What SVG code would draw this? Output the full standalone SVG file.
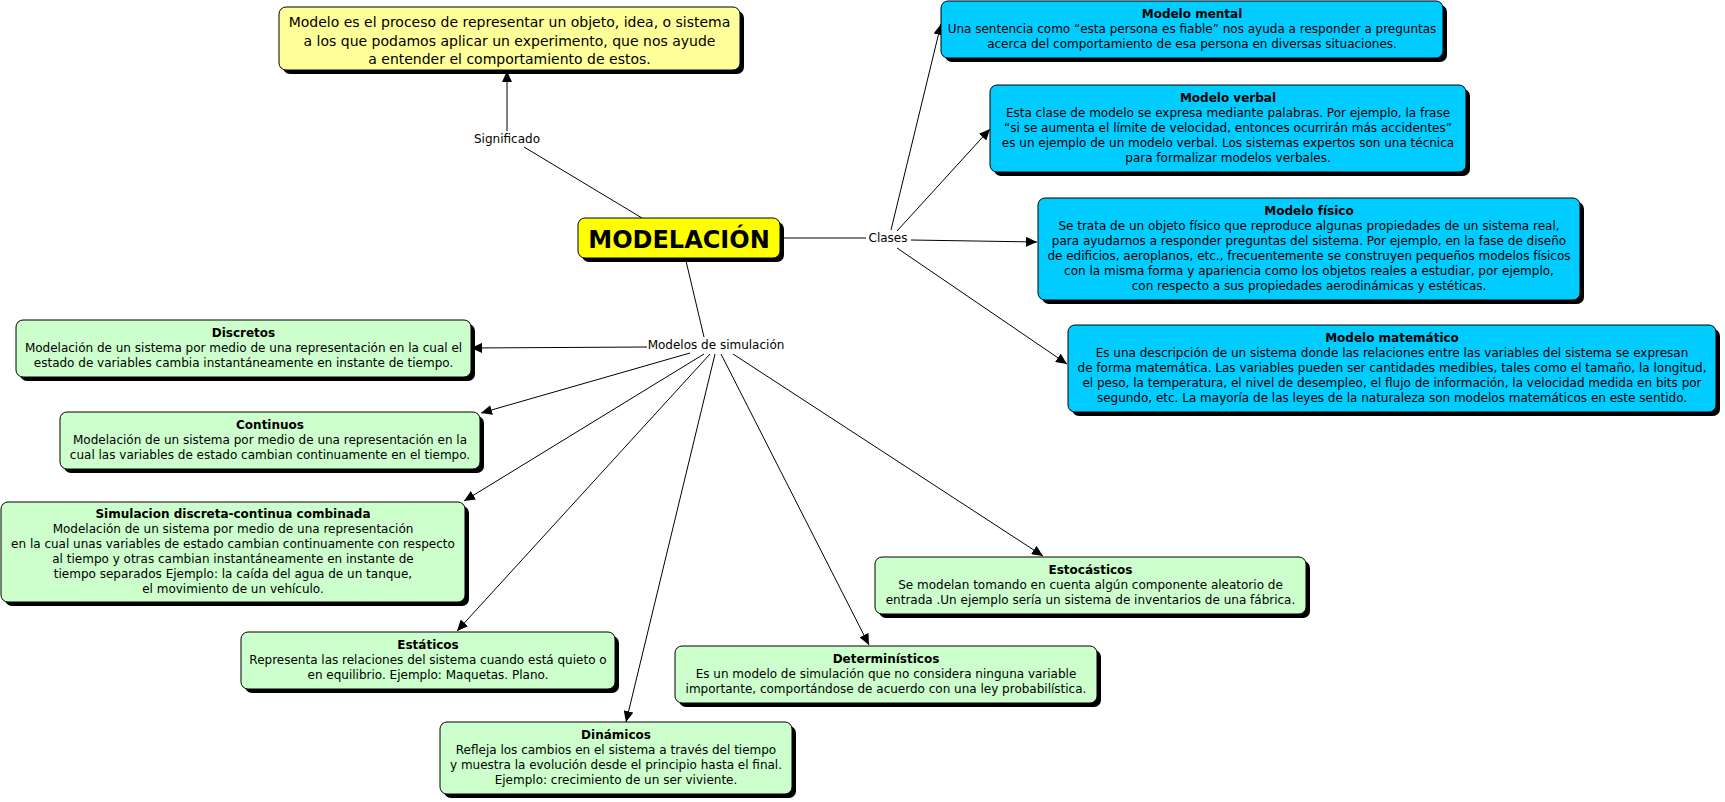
<svg xmlns="http://www.w3.org/2000/svg" width="1725" height="802" viewBox="0 0 1725 802">
<style>
text{font-family:"DejaVu Sans",Verdana,sans-serif;font-size:12px;fill:#000;text-anchor:middle}
.t{font-weight:bold}
.sh{fill:#000}
.box{stroke:#000;stroke-width:1}
.blue{fill:#00CCFF}
.green{fill:#CCFFCC}
.con line{stroke:#000;stroke-width:1}
.arr{marker-end:url(#ah)}
</style>
<defs>
<marker id="ah" markerWidth="12" markerHeight="10" refX="11" refY="5" orient="auto" markerUnits="userSpaceOnUse"><path d="M0,0 L11,5 L0,10 z" fill="#000"/></marker>
</defs>
<rect width="1725" height="802" fill="#fff"/>

<g id="connectors" class="con">
<line x1="642" y1="218" x2="524" y2="147"/>
<line class="arr" x1="507" y1="131" x2="507" y2="71"/>
<line x1="780" y1="238" x2="866" y2="238"/>
<line class="arr" x1="891" y1="230" x2="941" y2="24"/>
<line class="arr" x1="897" y1="231" x2="990" y2="129"/>
<line class="arr" x1="911" y1="240" x2="1037" y2="242"/>
<line class="arr" x1="897" y1="248" x2="1067" y2="364"/>
<line x1="686" y1="261" x2="704" y2="337"/>
<line class="arr" x1="647" y1="347" x2="471" y2="348"/>
<line class="arr" x1="690" y1="353" x2="481" y2="413"/>
<line class="arr" x1="704" y1="354" x2="464" y2="501"/>
<line class="arr" x1="710" y1="354" x2="457" y2="631"/>
<line class="arr" x1="715" y1="354" x2="626" y2="722"/>
<line class="arr" x1="721" y1="354" x2="869" y2="645"/>
<line class="arr" x1="733" y1="354" x2="1043" y2="556"/>
</g>

<g id="label-significado"><text x="507" y="143">Significado</text></g>
<g id="label-clases"><text x="888" y="242">Clases</text></g>
<g id="label-modelos"><text x="716" y="349">Modelos de simulación</text></g>

<g id="definicion">
<rect class="sh" x="283" y="11" width="461" height="63" rx="7"/>
<rect class="box" x="279" y="7" width="461" height="63" rx="7" fill="#FFFF99"/>
<text x="509.5" y="27" style="font-size:14px">Modelo es el proceso de representar un objeto, idea, o sistema</text>
<text x="509.5" y="45.5" style="font-size:14px">a los que podamos aplicar un experimento, que nos ayude</text>
<text x="509.5" y="64" style="font-size:14px">a entender el comportamiento de estos.</text>
</g>

<g id="modelacion">
<rect class="sh" x="582" y="222" width="202" height="40" rx="7"/>
<rect class="box" x="578" y="218" width="202" height="40" rx="7" fill="#FFFF00"/>
<text class="t" x="679" y="248" style="font-size:24px">MODELACIÓN</text>
</g>

<g id="mental">
<rect class="sh" x="945" y="5" width="502" height="57" rx="7"/>
<rect class="box blue" x="941" y="1" width="502" height="57" rx="7"/>
<text class="t" x="1192" y="18">Modelo mental</text>
<text x="1192" y="33">Una sentencia como “esta persona es fiable” nos ayuda a responder a preguntas</text>
<text x="1192" y="48">acerca del comportamiento de esa persona en diversas situaciones.</text>
</g>

<g id="verbal">
<rect class="sh" x="994" y="89" width="476" height="87" rx="7"/>
<rect class="box blue" x="990" y="85" width="476" height="87" rx="7"/>
<text class="t" x="1228" y="102">Modelo verbal</text>
<text x="1228" y="117">Esta clase de modelo se expresa mediante palabras. Por ejemplo, la frase</text>
<text x="1228" y="132">“si se aumenta el límite de velocidad, entonces ocurrirán más accidentes”</text>
<text x="1228" y="147">es un ejemplo de un modelo verbal. Los sistemas expertos son una técnica</text>
<text x="1228" y="162">para formalizar modelos verbales.</text>
</g>

<g id="fisico">
<rect class="sh" x="1042" y="202" width="542" height="102" rx="7"/>
<rect class="box blue" x="1038" y="198" width="542" height="102" rx="7"/>
<text class="t" x="1309" y="215">Modelo físico</text>
<text x="1309" y="230">Se trata de un objeto físico que reproduce algunas propiedades de un sistema real,</text>
<text x="1309" y="245">para ayudarnos a responder preguntas del sistema. Por ejemplo, en la fase de diseño</text>
<text x="1309" y="260">de edificios, aeroplanos, etc., frecuentemente se construyen pequeños modelos físicos</text>
<text x="1309" y="275">con la misma forma y apariencia como los objetos reales a estudiar, por ejemplo,</text>
<text x="1309" y="290">con respecto a sus propiedades aerodinámicas y estéticas.</text>
</g>

<g id="matematico">
<rect class="sh" x="1072" y="329" width="648" height="87" rx="7"/>
<rect class="box blue" x="1068" y="325" width="648" height="87" rx="7"/>
<text class="t" x="1392" y="342">Modelo matemático</text>
<text x="1392" y="357">Es una descripción de un sistema donde las relaciones entre las variables del sistema se expresan</text>
<text x="1392" y="372">de forma matemática. Las variables pueden ser cantidades medibles, tales como el tamaño, la longitud,</text>
<text x="1392" y="387">el peso, la temperatura, el nivel de desempleo, el flujo de información, la velocidad medida en bits por</text>
<text x="1392" y="402">segundo, etc. La mayoría de las leyes de la naturaleza son modelos matemáticos en este sentido.</text>
</g>

<g id="discretos">
<rect class="sh" x="20" y="324" width="455" height="57" rx="7"/>
<rect class="box green" x="16" y="320" width="455" height="57" rx="7"/>
<text class="t" x="243.5" y="337">Discretos</text>
<text x="243.5" y="352">Modelación de un sistema por medio de una representación en la cual el</text>
<text x="243.5" y="367">estado de variables cambia instantáneamente en instante de tiempo.</text>
</g>

<g id="continuos">
<rect class="sh" x="64" y="416" width="420" height="57" rx="7"/>
<rect class="box green" x="60" y="412" width="420" height="57" rx="7"/>
<text class="t" x="270" y="429">Continuos</text>
<text x="270" y="444">Modelación de un sistema por medio de una representación en la</text>
<text x="270" y="459">cual las variables de estado cambian continuamente en el tiempo.</text>
</g>

<g id="combinada">
<rect class="sh" x="5" y="506" width="464" height="100" rx="7"/>
<rect class="box green" x="1" y="502" width="464" height="100" rx="7"/>
<text class="t" x="233" y="518">Simulacion discreta-continua combinada</text>
<text x="233" y="533">Modelación de un sistema por medio de una representación</text>
<text x="233" y="548">en la cual unas variables de estado cambian continuamente con respecto</text>
<text x="233" y="563">al tiempo y otras cambian instantáneamente en instante de</text>
<text x="233" y="578">tiempo separados Ejemplo: la caída del agua de un tanque,</text>
<text x="233" y="593">el movimiento de un vehículo.</text>
</g>

<g id="estaticos">
<rect class="sh" x="245" y="636" width="374" height="57" rx="7"/>
<rect class="box green" x="241" y="632" width="374" height="57" rx="7"/>
<text class="t" x="428" y="649">Estáticos</text>
<text x="428" y="664">Representa las relaciones del sistema cuando está quieto o</text>
<text x="428" y="679">en equilibrio. Ejemplo: Maquetas. Plano.</text>
</g>

<g id="dinamicos">
<rect class="sh" x="444" y="726" width="352" height="72" rx="7"/>
<rect class="box green" x="440" y="722" width="352" height="72" rx="7"/>
<text class="t" x="616" y="739">Dinámicos</text>
<text x="616" y="754">Refleja los cambios en el sistema a través del tiempo</text>
<text x="616" y="769">y muestra la evolución desde el principio hasta el final.</text>
<text x="616" y="784">Ejemplo: crecimiento de un ser viviente.</text>
</g>

<g id="deterministicos">
<rect class="sh" x="679" y="650" width="422" height="57" rx="7"/>
<rect class="box green" x="675" y="646" width="422" height="57" rx="7"/>
<text class="t" x="886" y="663">Determinísticos</text>
<text x="886" y="678">Es un modelo de simulación que no considera ninguna variable</text>
<text x="886" y="693">importante, comportándose de acuerdo con una ley probabilística.</text>
</g>

<g id="estocasticos">
<rect class="sh" x="879" y="561" width="431" height="57" rx="7"/>
<rect class="box green" x="875" y="557" width="431" height="57" rx="7"/>
<text class="t" x="1090.5" y="574">Estocásticos</text>
<text x="1090.5" y="589">Se modelan tomando en cuenta algún componente aleatorio de</text>
<text x="1090.5" y="604">entrada .Un ejemplo sería un sistema de inventarios de una fábrica.</text>
</g>
</svg>
